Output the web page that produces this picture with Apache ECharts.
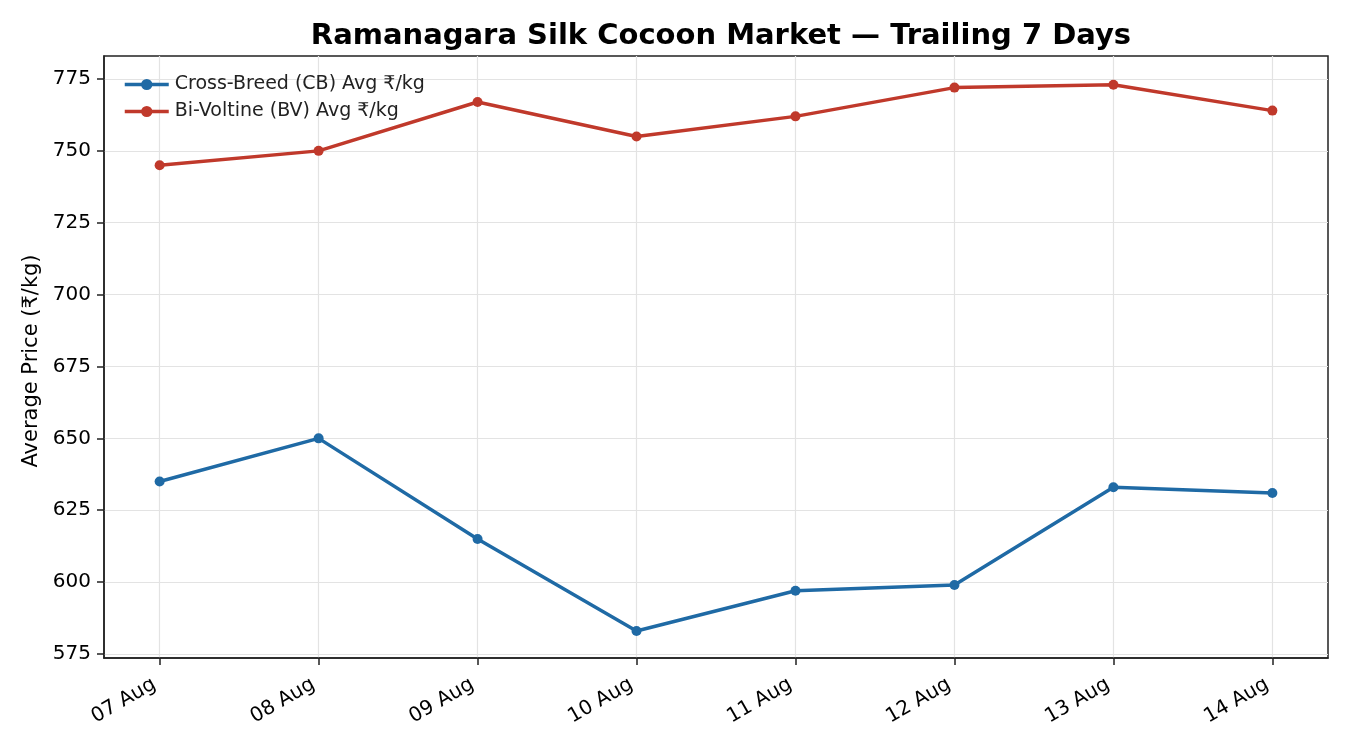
<!DOCTYPE html>
<html><head><meta charset="utf-8">
<script src="https://cdn.jsdelivr.net/npm/echarts@6/dist/echarts.min.js"></script>
<style>html,body{margin:0;padding:0;background:#fff}#c{width:1350px;height:750px}</style>
</head><body><div id="c"></div>
<script>
const categories = ['07 Aug','08 Aug','09 Aug','10 Aug','11 Aug','12 Aug','13 Aug','14 Aug'];
const cbValues = [635, 650, 615, 583, 597, 599, 633, 631];
const bvValues = [745, 750, 767, 755, 762, 772, 773, 764];
const yTicks = [575, 600, 625, 650, 675, 700, 725, 750, 775];
const xTicks = categories.map((c, i) => i);
const font = '"DejaVu Sans", sans-serif';
const chart = echarts.init(document.getElementById('c'));
chart.setOption({
  animation: false,
  textStyle: {fontFamily: font},
  title: {text: 'Ramanagara Silk Cocoon Market — Trailing 7 Days', left: 716, textAlign: 'center', top: 17,
    textStyle: {fontFamily: font, fontSize: 29, fontWeight: 'bold', color: '#000'}},
  grid: {left: 104, right: 22, top: 56, bottom: 92, show: true, borderColor: '#222', borderWidth: 1.5, backgroundColor: 'transparent'},
  legend: {orient: 'vertical', left: 118, top: 70, itemGap: 8, itemWidth: 44, itemHeight: 14,
    lineStyle: {width: 3.5},
    textStyle: {fontFamily: font, fontSize: 19, color: '#222', padding: [0, 0, 0, 1]},
    data: ['Cross-Breed (CB) Avg ₹/kg', 'Bi-Voltine (BV) Avg ₹/kg']},
  xAxis: {type: 'value', min: -0.35, max: 7.35,
    axisLine: {show: true, onZero: false, lineStyle: {color: '#222', width: 1.5}},
    axisTick: {show: true, length: 7, customValues: xTicks, lineStyle: {color: '#222', width: 1.5}},
    axisLabel: {customValues: xTicks, rotate: 30, margin: 22, padding: [0, 6, 0, 0], fontSize: 20, color: '#000', fontFamily: font,
      formatter: v => categories[Math.round(v)]},
    splitLine: {show: true, lineStyle: {color: '#e3e3e3', width: 1.2}}},
  yAxis: {type: 'value', min: 573.6, max: 783,
    name: 'Average Price (₹/kg)', nameLocation: 'middle', nameGap: 62,
    nameTextStyle: {fontFamily: font, fontSize: 21, color: '#000', padding: [0, 8, 0, 0]},
    axisLine: {show: true, onZero: false, lineStyle: {color: '#222', width: 1.5}},
    axisTick: {show: true, length: 7, customValues: yTicks, lineStyle: {color: '#222', width: 1.5}},
    axisLabel: {customValues: yTicks, margin: 13, fontSize: 20, color: '#000', fontFamily: font},
    splitLine: {show: true, lineStyle: {color: '#e3e3e3', width: 1.2}}},
  series: [
    {name: 'Cross-Breed (CB) Avg ₹/kg', type: 'line', data: cbValues.map((v, i) => [i, v]),
      symbol: 'circle', symbolSize: 10, color: '#1f6aa5', lineStyle: {width: 3.5}},
    {name: 'Bi-Voltine (BV) Avg ₹/kg', type: 'line', data: bvValues.map((v, i) => [i, v]),
      symbol: 'circle', symbolSize: 10, color: '#c0392b', lineStyle: {width: 3.5}}
  ]
});
</script></body></html>
